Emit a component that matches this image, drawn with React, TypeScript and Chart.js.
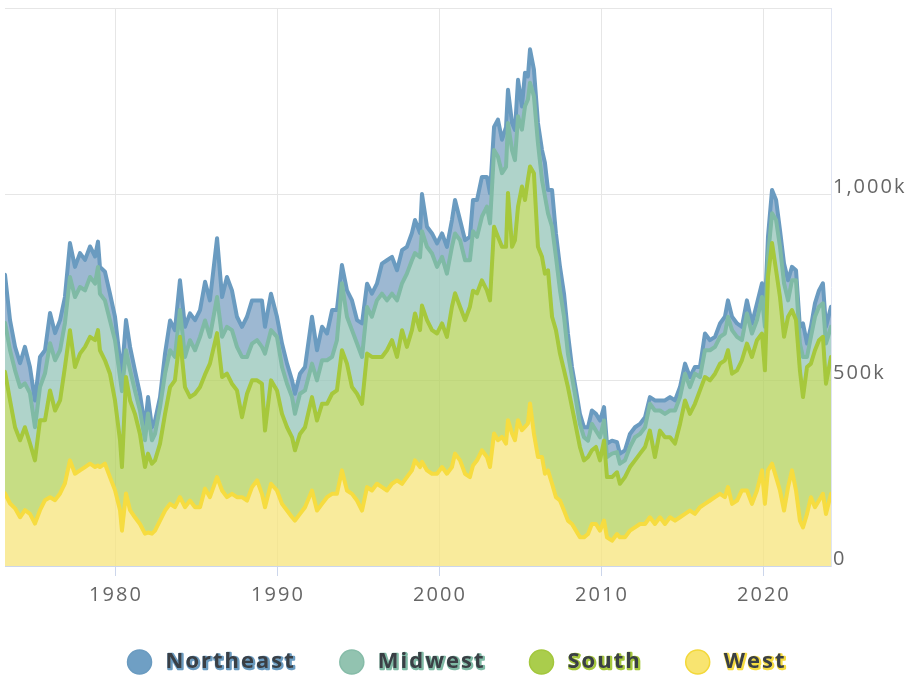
import { useEffect, useRef } from 'react';
import { Chart, registerables } from 'chart.js';

Chart.register(...registerables);

// Monthly-ish readings (decimal years) of new home sales, thousands, seasonally adjusted annual rate
const years = [
  1973.15, 1973.46, 1973.77, 1974.08, 1974.38, 1974.69, 1975.00, 1975.31, 1975.62, 1975.93,
  1976.24, 1976.55, 1976.85, 1977.16, 1977.47, 1977.78, 1978.09, 1978.40, 1978.71, 1978.89,
  1979.01, 1979.32, 1979.63, 1979.94, 1980.25, 1980.37, 1980.62, 1980.87, 1981.17, 1981.48,
  1981.79, 1981.98, 1982.22, 1982.41, 1982.72, 1983.03, 1983.34, 1983.64, 1983.95, 1984.26,
  1984.57, 1984.88, 1985.19, 1985.50, 1985.80, 1986.24, 1986.55, 1986.85, 1987.16, 1987.47,
  1987.78, 1988.09, 1988.40, 1988.71, 1989.01, 1989.20, 1989.57, 1989.94, 1990.25, 1990.56,
  1990.87, 1991.05, 1991.36, 1991.67, 1992.10, 1992.41, 1992.72, 1993.03, 1993.34, 1993.64,
  1993.95, 1994.26, 1994.57, 1994.88, 1995.19, 1995.50, 1995.80, 1996.11, 1996.42, 1996.73,
  1997.04, 1997.35, 1997.66, 1997.96, 1998.27, 1998.46, 1998.77, 1998.89, 1999.20, 1999.51,
  1999.82, 2000.13, 2000.43, 2000.74, 2000.93, 2001.24, 2001.55, 2001.85, 2002.04, 2002.29,
  2002.59, 2002.90, 2003.09, 2003.34, 2003.58, 2003.83, 2004.08, 2004.20, 2004.45, 2004.63,
  2004.82, 2005.06, 2005.25, 2005.43, 2005.56, 2005.80, 2006.05, 2006.30, 2006.48, 2006.67,
  2006.92, 2007.16, 2007.41, 2007.66, 2007.90, 2008.15, 2008.40, 2008.64, 2008.89, 2009.14,
  2009.38, 2009.63, 2009.88, 2010.13, 2010.31, 2010.62, 2010.93, 2011.11, 2011.42, 2011.73,
  2012.04, 2012.35, 2012.66, 2012.96, 2013.27, 2013.58, 2013.89, 2014.20, 2014.51, 2014.82,
  2015.13, 2015.43, 2015.74, 2016.05, 2016.36, 2016.67, 2016.98, 2017.29, 2017.59, 2017.78,
  2018.03, 2018.34, 2018.64, 2018.95, 2019.26, 2019.57, 2019.88, 2020.06, 2020.25, 2020.50,
  2020.75, 2020.99, 2021.24, 2021.49, 2021.73, 2021.98, 2022.22, 2022.41, 2022.66, 2022.90,
  2023.15, 2023.40, 2023.64, 2023.83, 2024.14,
];

const west = [
  195, 168, 155, 131, 150, 140, 114, 150, 177, 185,
  177, 195, 222, 284, 248, 257, 266, 275, 266, 270,
  266, 275, 239, 204, 150, 95, 195, 150, 131, 113,
  87, 90, 87, 95, 122, 149, 167, 158, 185, 158,
  176, 158, 158, 208, 185, 239, 203, 185, 194, 185,
  185, 176, 212, 230, 194, 158, 221, 203, 167, 149,
  131, 122, 140, 158, 203, 149, 167, 185, 194, 194,
  257, 203, 194, 176, 149, 212, 203, 221, 212, 203,
  221, 230, 221, 239, 257, 284, 266, 280, 257, 248,
  248, 266, 248, 266, 302, 284, 248, 239, 270, 284,
  311, 293, 266, 356, 338, 347, 329, 392, 356, 338,
  392, 365, 374, 383, 437, 356, 293, 293, 248, 257,
  221, 185, 176, 149, 122, 113, 95, 77, 77, 86,
  113, 113, 95, 122, 77, 68, 86, 77, 77, 95,
  104, 113, 113, 131, 113, 131, 113, 131, 122, 131,
  140, 149, 140, 158, 167, 176, 185, 194, 185, 212,
  167, 176, 203, 203, 167, 203, 257, 167, 257, 275,
  239, 203, 149, 212, 257, 203, 122, 104, 140, 185,
  158, 176, 194, 140, 194,
];

const south = [
  327, 277, 218, 207, 223, 190, 170, 242, 215, 287,
  241, 250, 313, 350, 287, 314, 323, 341, 341, 364,
  314, 278, 278, 241, 188, 171, 313, 295, 278, 242,
  179, 212, 188, 189, 207, 260, 314, 341, 431, 323,
  278, 305, 323, 307, 359, 387, 305, 332, 296, 287,
  215, 287, 287, 269, 296, 206, 278, 269, 242, 224,
  215, 189, 215, 215, 251, 242, 269, 251, 269, 278,
  323, 341, 287, 287, 287, 359, 359, 341, 350, 377,
  386, 332, 413, 350, 377, 395, 368, 420, 404, 386,
  377, 386, 368, 431, 431, 413, 413, 458, 470, 449,
  457, 448, 448, 556, 547, 511, 529, 611, 502, 538,
  574, 655, 610, 656, 637, 700, 565, 538, 538, 538,
  449, 449, 395, 377, 359, 314, 278, 243, 207, 207,
  198, 207, 189, 215, 162, 171, 166, 144, 162, 171,
  180, 189, 207, 233, 180, 233, 233, 215, 207, 251,
  305, 260, 296, 314, 341, 323, 332, 350, 368, 368,
  350, 350, 350, 395, 395, 404, 368, 359, 520, 593,
  556, 520, 467, 458, 431, 458, 404, 350, 395, 359,
  422, 431, 422, 350, 368,
];

const midwest = [
  132, 135, 153, 143, 118, 135, 89, 89, 126, 127,
  135, 135, 118, 143, 188, 179, 152, 161, 152, 170,
  152, 161, 143, 162, 170, 204, 72, 81, 63, 63,
  72, 108, 63, 71, 98, 108, 99, 63, 72, 81,
  153, 117, 135, 145, 72, 97, 108, 126, 144, 117,
  162, 99, 99, 108, 99, 207, 135, 144, 126, 117,
  108, 98, 108, 99, 90, 108, 117, 117, 99, 135,
  180, 126, 153, 135, 126, 125, 108, 152, 170, 134,
  125, 152, 126, 197, 188, 162, 196, 200, 197, 206,
  179, 179, 170, 161, 161, 179, 161, 125, 160, 152,
  171, 225, 207, 206, 215, 198, 215, 188, 260, 215,
  243, 153, 252, 215, 225, 207, 279, 207, 208, 153,
  242, 197, 170, 144, 90, 81, 72, 62, 62, 44,
  71, 44, 62, 54, 54, 63, 54, 54, 45, 54,
  62, 53, 53, 72, 125, 54, 63, 72, 89, 72,
  72, 72, 81, 36, 72, 81, 72, 72, 72, 90,
  117, 90, 54, 81, 63, 54, 98, 117, 54, 80,
  135, 135, 144, 44, 80, 107, 72, 108, 27, 72,
  90, 90, 90, 108, 81,
];

const northeast = [
  129, 81, 63, 64, 98, 70, 72, 81, 62, 81,
  73, 81, 70, 91, 81, 91, 82, 82, 73, 68,
  72, 77, 72, 63, 45, 50, 81, 63, 54, 45,
  35, 44, 35, 36, 27, 54, 80, 72, 80, 81,
  72, 81, 72, 104, 98, 158, 107, 134, 107, 81,
  81, 108, 116, 107, 125, 72, 98, 54, 63, 54,
  45, 54, 54, 63, 126, 81, 90, 72, 126, 81,
  49, 71, 80, 63, 90, 63, 62, 45, 81, 108,
  99, 81, 89, 72, 73, 89, 65, 100, 54, 54,
  63, 63, 72, 72, 90, 54, 54, 63, 84, 99,
  107, 80, 81, 62, 100, 90, 107, 89, 73, 81,
  98, 62, 90, 62, 90, 72, 54, 80, 90, 63,
  99, 63, 63, 62, 54, 27, 27, 27, 27, 36,
  36, 45, 45, 36, 36, 35, 27, 27, 27, 35,
  27, 27, 27, 18, 27, 27, 36, 36, 27, 27,
  27, 27, 18, 27, 45, 27, 27, 36, 45, 44,
  36, 36, 36, 35, 27, 45, 37, 45, 54, 63,
  54, 45, 53, 54, 36, 27, 45, 90, 36, 27,
  36, 44, 54, 45, 54,
];

const xTickYears = [1980, 1990, 2000, 2010, 2020];
const yTickValues = [0, 500, 1000, 1500];

// bottom of stack first
const seriesDefs = [
  { label: 'West', data: west, line: '#f6dc40', fill: 'rgba(247,228,123,0.75)', dot: '#f8e470', dotBorder: '#f3d83a' },
  { label: 'South', data: south, line: '#a6c83c', fill: 'rgba(179,210,91,0.75)', dot: '#aacd4c', dotBorder: '#a3c73c' },
  { label: 'Midwest', data: midwest, line: '#7fbaa5', fill: 'rgba(148,196,184,0.75)', dot: '#92c3b0', dotBorder: '#86bca8' },
  { label: 'Northeast', data: northeast, line: '#6a9bc0', fill: 'rgba(124,160,195,0.75)', dot: '#6f9fc4', dotBorder: '#6a9bc0' },
];

const FONT = '"Open Sans", "DejaVu Sans", sans-serif';

export default function App() {
  const ref = useRef<HTMLCanvasElement>(null);

  useEffect(() => {
    document.body.style.margin = '0';
    const canvas = ref.current;
    if (!canvas) return;

    const spacingPlugin = {
      id: 'letterSpacing',
      beforeDraw(chart: any) {
        (chart.ctx as any).letterSpacing = '2px';
      },
    };

    const legendPlugin = {
      id: 'customLegend',
      afterDraw(chart: any) {
        const ctx = chart.ctx as CanvasRenderingContext2D;
        ctx.save();
        ctx.font = `700 22px ${FONT}`;
        (ctx as any).letterSpacing = '2px';
        ctx.textBaseline = 'middle';
        ctx.textAlign = 'left';
        const items = [...seriesDefs].reverse();
        const r = 12;
        const gap = 14;
        const itemGap = 44;
        const widths = items.map((it) => ctx.measureText(it.label).width);
        const total = widths.reduce((a, w) => a + 2 * r + gap + w, 0) + itemGap * (items.length - 1);
        let x = chart.width / 2 - total / 2 + 2;
        const y = chart.height - 15;
        items.forEach((it, i) => {
          ctx.beginPath();
          ctx.arc(x + r, y, r, 0, Math.PI * 2);
          ctx.fillStyle = it.dot;
          ctx.fill();
          ctx.lineWidth = 1.5;
          ctx.strokeStyle = it.dotBorder;
          ctx.stroke();
          const tx = x + 2 * r + gap;
          ctx.lineJoin = 'round';
          ctx.lineWidth = 2.5;
          ctx.strokeStyle = it.line;
          ctx.strokeText(it.label, tx + 1, y + 1);
          ctx.fillStyle = '#3a3f45';
          ctx.fillText(it.label, tx, y);
          x = tx + widths[i] + itemGap;
        });
        ctx.restore();
      },
    };

    const chart = new Chart(canvas, {
      type: 'line',
      data: {
        datasets: seriesDefs.map((s, i) => ({
          label: s.label,
          data: years.map((yr, j) => ({ x: yr, y: s.data[j] })),
          borderColor: s.line,
          backgroundColor: s.fill,
          fill: i === 0 ? 'origin' : '-1',
          borderWidth: 4,
          pointRadius: 0,
          tension: 0,
          borderJoinStyle: 'round',
          borderCapStyle: 'round',
        })),
      },
      options: {
        responsive: false,
        animation: false,
        devicePixelRatio: 1,
        layout: { padding: { left: 5, top: 8, right: 0, bottom: 61 } },
        plugins: {
          legend: { display: false },
          tooltip: { enabled: false },
          filler: { drawTime: 'beforeDatasetsDraw' },
        },
        scales: {
          x: {
            type: 'linear',
            min: years[0],
            max: years[years.length - 1],
            afterBuildTicks: (scale: any) => {
              scale.ticks = xTickYears.map((v) => ({ value: v }));
            },
            afterFit: (scale: any) => {
              scale.height = 50;
              scale.paddingLeft = 0;
              scale.paddingRight = 0;
            },
            grid: { color: '#e6e6e6', tickColor: '#ccd6eb', tickLength: 10, lineWidth: 1 },
            border: { color: '#ccd6eb', width: 1 },
            ticks: {
              color: '#666666',
              font: { family: FONT, size: 20 },
              padding: 7,
              maxRotation: 0,
              autoSkip: false,
              callback: (v: any) => String(v),
            },
          },
          y: {
            position: 'right',
            stacked: true,
            min: 0,
            max: 1500,
            afterBuildTicks: (scale: any) => {
              scale.ticks = yTickValues.map((v) => ({ value: v }));
            },
            afterFit: (scale: any) => {
              scale.width = 79;
              scale.paddingTop = 0;
              scale.paddingBottom = 0;
            },
            grid: { color: '#e6e6e6', drawTicks: false },
            border: { color: '#dfe4f2', width: 1 },
            ticks: {
              color: '#666666',
              font: { family: FONT, size: 20 },
              padding: 2,
              labelOffset: -7,
              callback: (v: any) =>
                v === 1500 ? '' : v === 0 ? '0' : Number(v).toLocaleString('en-US') + 'k',
            },
          },
        },
      } as any,
      plugins: [spacingPlugin, legendPlugin],
    });

    return () => chart.destroy();
  }, []);

  return (
    <div style={{ width: 910, height: 677, position: 'relative' }}>
      <canvas ref={ref} width={910} height={677} style={{ display: 'block', width: 910, height: 677 }} />
    </div>
  );
}
